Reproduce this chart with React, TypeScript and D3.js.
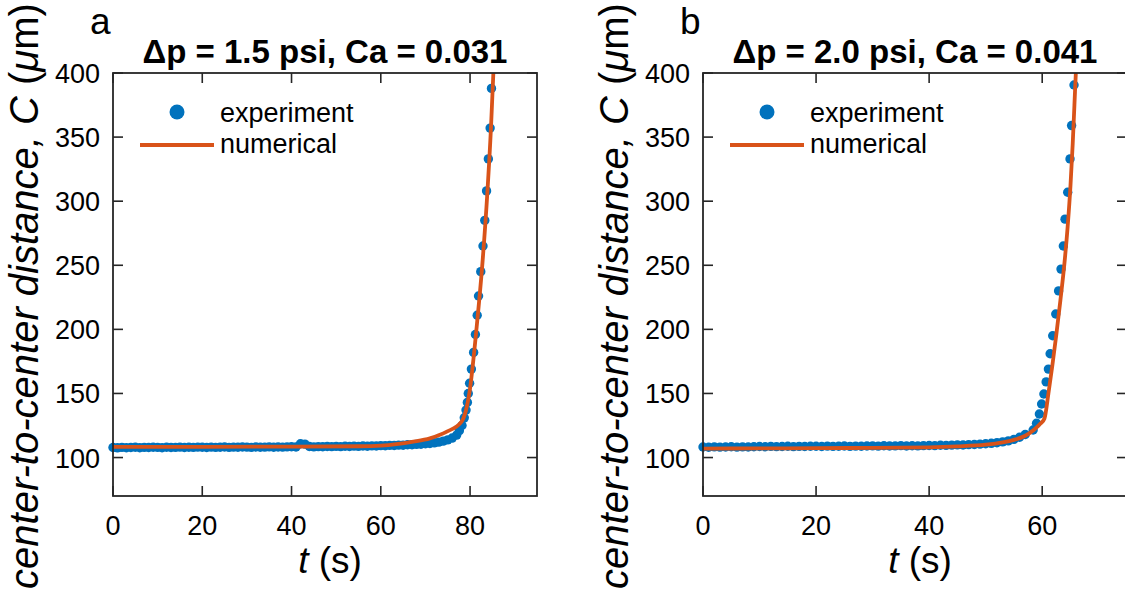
import React from "react";
import * as d3 from "d3";

// ---------- data ----------
const titlesText = ["Δp = 1.5 psi, Ca = 0.031", "Δp = 2.0 psi, Ca = 0.041"];
const panelLetters = ["a", "b"];
const xMaxA = 95;
const xMaxB = 75;
const yDomain = [70, 400];
const xTicksA = [0, 20, 40, 60, 80];
const xTicksB = [0, 20, 40, 60];
const yTicks = [100, 150, 200, 250, 300, 350, 400];
const legendLabels = ["experiment", "numerical"];

// panel a – experiment
const expTA = [
  0, 1, 2, 3, 4, 5, 6, 7, 8, 9, 10, 11, 12, 13, 14, 15, 16, 17, 18, 19,
  20, 21, 22, 23, 24, 25, 26, 27, 28, 29, 30, 31, 32, 33, 34, 35, 36, 37, 38, 39,
  40, 41, 42, 43, 44, 45, 46, 47, 48, 49, 50, 51, 52, 53, 54, 55, 56, 57, 58, 59,
  60, 61, 62, 63, 64, 65, 66, 67, 68, 69, 70, 71, 72, 73, 74, 75, 76,
  77.0, 77.6, 78.2, 78.7, 79.1, 79.4, 79.6, 79.9, 80.3, 80.8, 81.2, 81.6, 81.9,
  82.4, 82.9, 83.3, 83.7, 84.1, 84.5, 84.8,
];
const expCA = [
  107.8, 107.6, 107.9, 107.7, 107.8, 108.0, 107.7, 107.9, 107.8, 108.0,
  107.9, 107.7, 108.0, 107.8, 107.9, 108.1, 107.8, 108.0, 107.9, 108.1,
  108.0, 107.8, 108.1, 107.9, 108.0, 108.2, 107.9, 108.1, 108.0, 108.2,
  108.1, 107.9, 108.2, 108.0, 108.1, 108.3, 108.0, 108.2, 108.1, 108.3,
  108.4, 108.2, 110.8, 110.5, 108.6, 108.3, 108.5, 108.4, 108.6, 108.5,
  108.7, 108.5, 108.8, 108.6, 108.9, 108.7, 109.0, 108.8, 109.1, 109.0,
  109.3, 109.2, 109.5, 109.4, 109.7, 109.6, 110.0, 110.0, 110.3, 110.4,
  110.8, 111.0, 111.5, 112.0, 112.8, 113.8, 115.2,
  117.5, 121, 125, 131, 137, 143, 150, 158, 169, 182, 196, 211, 226,
  245, 265, 285, 308, 333, 357, 388,
];
// panel a – numerical
const numTA = [0, 20, 40, 55, 60, 67.3, 71, 74.8, 78.1, 79.1, 79.84, 81.49, 82.83, 83.87, 84.7, 85.22, 85.4];
const numCA = [108.3, 108.4, 108.5, 108.8, 109.3, 112.4, 115, 120.2, 128, 137.1, 150.1, 202.1, 254.1, 306.1, 358.1, 399.8, 415];

// panel b – experiment
const expTB = [
  0, 1, 2, 3, 4, 5, 6, 7, 8, 9, 10, 11, 12, 13, 14, 15, 16, 17, 18, 19,
  20, 21, 22, 23, 24, 25, 26, 27, 28, 29, 30, 31, 32, 33, 34, 35, 36, 37, 38, 39,
  40, 41, 42, 43, 44, 45, 46, 47, 48, 49, 50, 51, 52, 53, 54, 55, 56, 57,
  58.4, 59.0, 59.5, 59.9, 60.3, 60.7, 61.1, 61.4, 61.86, 62.4, 62.9, 63.33,
  63.74, 64.04, 64.51, 64.92, 65.2, 65.63,
];
const expCB = [
  108.2, 108.0, 108.3, 108.1, 108.2, 108.4, 108.1, 108.3, 108.2, 108.4,
  108.6, 108.4, 108.7, 108.5, 108.6, 108.8, 108.5, 108.7, 108.6, 108.8,
  108.8, 108.6, 108.9, 108.7, 108.8, 109.0, 108.7, 108.9, 108.8, 109.0,
  109.1, 108.9, 109.2, 109.0, 109.1, 109.3, 109.0, 109.2, 109.1, 109.3,
  109.4, 109.3, 109.6, 109.5, 109.7, 109.9, 109.8, 110.1, 110.2, 110.5,
  110.8, 111.1, 111.6, 112.2, 113.0, 114.2, 115.8, 118.0,
  121.5, 126.7, 134, 141.8, 149.6, 159, 169, 181, 195, 212, 230, 247,
  265, 286, 307, 333, 359, 390.6,
];
// panel b – numerical
const numTB = [0, 10, 20, 30, 40, 45, 50, 53, 55, 57, 58.5, 59.7, 60.4, 61.1, 61.8, 62.5, 63.2, 63.9, 64.5, 65.0, 65.4, 65.7, 66.0, 66.2];
const numCB = [107.0, 107.1, 107.3, 107.6, 108.0, 108.7, 110.0, 111.8, 113.8, 117.0, 121.5, 126.5, 130.5, 150, 172, 196, 222, 250, 280, 312, 345, 375, 405, 420];

// ---------- styling ----------
const W = 1125;
const H = 592;
const FONT = "'Liberation Sans', Arial, Helvetica, sans-serif";
const BLUE = "#0072BD";
const ORANGE = "#D95319";
const AXIS = "#262626";

type PanelProps = {
  left: number;
  xMax: number;
  xTicks: number[];
  expT: number[];
  expC: number[];
  numT: number[];
  numC: number[];
  title: string;
  letter: string;
  id: string;
};

const TOP = 73;
const BOTTOM = 496;
const AXW = 424;

function Panel(p: PanelProps) {
  const x = d3.scaleLinear().domain([0, p.xMax]).range([p.left, p.left + AXW]);
  const y = d3.scaleLinear().domain(yDomain).range([BOTTOM, TOP]);
  const line = d3
    .line<number>()
    .x((_, i) => x(p.numT[i]))
    .y((_, i) => y(p.numC[i]))
    .curve(d3.curveMonotoneX);
  const right = p.left + AXW;
  const cx = p.left + AXW / 2;
  const tickLen = 10;
  return (
    <g>
      <defs>
        <clipPath id={"clip" + p.id}>
          <rect x={p.left} y={TOP} width={AXW} height={BOTTOM - TOP} />
        </clipPath>
      </defs>
      {/* data */}
      {p.expT.map((t, i) => (
        <circle key={i} cx={x(t)} cy={y(p.expC[i])} r={4.7} fill={BLUE} />
      ))}
      <path
        d={line(p.numT) || ""}
        fill="none"
        stroke={ORANGE}
        strokeWidth={3.8}
        clipPath={`url(#clip${p.id})`}
      />
      {/* box */}
      <rect x={p.left} y={TOP} width={AXW} height={BOTTOM - TOP} fill="none" stroke={AXIS} strokeWidth={1.8} />
      {/* x ticks */}
      {p.xTicks.map((t) => (
        <g key={"x" + t}>
          <line x1={x(t)} x2={x(t)} y1={BOTTOM} y2={BOTTOM - tickLen} stroke={AXIS} strokeWidth={1.6} />
          <line x1={x(t)} x2={x(t)} y1={TOP} y2={TOP + tickLen} stroke={AXIS} strokeWidth={1.6} />
          <text x={x(t)} y={535} textAnchor="middle" fontFamily={FONT} fontSize={27} fill="#000">
            {t}
          </text>
        </g>
      ))}
      {/* y ticks */}
      {yTicks.map((v) => (
        <g key={"y" + v}>
          <line x1={p.left} x2={p.left + tickLen} y1={y(v)} y2={y(v)} stroke={AXIS} strokeWidth={1.6} />
          <line x1={right} x2={right - tickLen} y1={y(v)} y2={y(v)} stroke={AXIS} strokeWidth={1.6} />
          <text x={p.left - 13} y={y(v) + 10} textAnchor="end" fontFamily={FONT} fontSize={27} fill="#000">
            {v}
          </text>
        </g>
      ))}
      {/* title */}
      <text x={cx} y={63} textAnchor="middle" fontFamily={FONT} fontSize={33} fontWeight="bold" fill="#000">
        {p.title}
      </text>
      {/* letter */}
      <text x={p.left - 23} y={34} fontFamily={FONT} fontSize={37} fill="#000">
        {p.letter}
      </text>
      {/* x label */}
      <text x={cx + 5} y={573} textAnchor="middle" fontFamily={FONT} fontSize={37} fill="#000">
        <tspan fontStyle="italic">t</tspan>
        <tspan> (s)</tspan>
      </text>
      {/* y label */}
      <text
        transform={`translate(${p.left - 75},${296}) rotate(-90)`}
        textAnchor="middle"
        fontFamily={FONT}
        fontSize={40}
        fill="#000"
      >
        <tspan fontStyle="italic">center-to-center distance, C</tspan>
        <tspan> (</tspan>
        <tspan fontStyle="italic">μ</tspan>
        <tspan>m)</tspan>
      </text>
      {/* legend */}
      <circle cx={p.left + 64} cy={112} r={7.5} fill={BLUE} />
      <text x={p.left + 107} y={122} fontFamily={FONT} fontSize={27} fill="#000">
        {legendLabels[0]}
      </text>
      <line x1={p.left + 27} x2={p.left + 101} y1={145} y2={145} stroke={ORANGE} strokeWidth={3.8} />
      <text x={p.left + 107} y={153} fontFamily={FONT} fontSize={27} fill="#000">
        {legendLabels[1]}
      </text>
    </g>
  );
}

export default function App() {
  return (
    <svg
      width={W}
      height={H}
      viewBox={`0 0 ${W} ${H}`}
      style={{ position: "absolute", left: 0, top: 0, background: "#fff" }}
    >
      <rect x={0} y={0} width={W} height={H} fill="#fff" />
      <Panel
        id="a"
        left={113}
        xMax={xMaxA}
        xTicks={xTicksA}
        expT={expTA}
        expC={expCA}
        numT={numTA}
        numC={numCA}
        title={titlesText[0]}
        letter={panelLetters[0]}
      />
      <Panel
        id="b"
        left={703}
        xMax={xMaxB}
        xTicks={xTicksB}
        expT={expTB}
        expC={expCB}
        numT={numTB}
        numC={numCB}
        title={titlesText[1]}
        letter={panelLetters[1]}
      />
    </svg>
  );
}
